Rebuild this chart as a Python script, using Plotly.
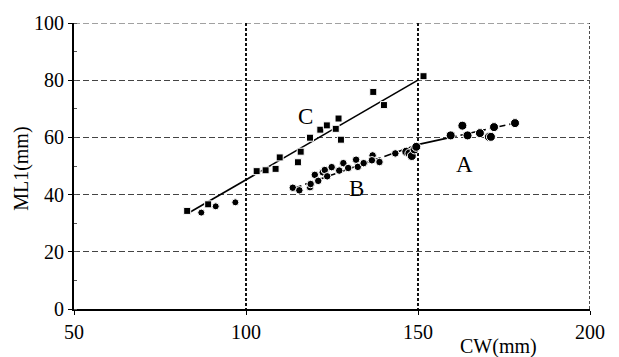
import plotly.graph_objects as go

# --- data ---
C_sq_cw = [82.9, 89.0, 103.1, 105.7, 108.6, 109.8, 115.1, 115.9, 118.6, 121.6,
           123.5, 126.1, 126.9, 127.6, 137.0, 140.1, 151.6]
C_sq_ml = [34.3, 36.6, 48.2, 48.5, 49.0, 53.0, 51.3, 55.0, 59.9, 62.7,
           64.2, 63.0, 66.6, 59.2, 75.9, 71.3, 81.4]

C_rd_cw = [87.0, 91.2, 96.9]
C_rd_ml = [33.7, 35.9, 37.3]

B_cw = [113.6, 115.5, 118.6, 118.8, 120.0, 121.0, 122.3, 122.9, 123.6, 124.9,
        127.1, 128.3, 129.7, 132.0, 132.5, 134.2, 136.8, 136.6, 138.8, 143.4]
B_ml = [42.4, 41.5, 42.6, 43.7, 46.9, 44.8, 47.8, 48.6, 46.4, 49.6,
        48.4, 51.0, 49.3, 52.2, 49.7, 51.0, 53.7, 52.0, 51.4, 54.4]

A_cw = [146.6, 147.5, 148.2, 149.0, 149.5, 159.5, 162.9, 164.4, 168.0, 170.6,
        171.2, 172.1, 178.2]
A_ml = [55.0, 54.4, 53.5, 55.8, 56.7, 60.7, 64.1, 60.7, 61.5, 60.2,
        60.2, 63.6, 65.0]

lineC_cw = [83.8, 150.1]
lineC_ml = [33.9, 80.1]
lineB_cw = [113.9, 149.5]
lineB_ml = [42.2, 57.3]
lineA_solid_cw = [149.2, 159.5]
lineA_solid_ml = [57.3, 60.0]
lineA_dash_cw = [159.5, 178.2]
lineA_dash_ml = [60.0, 65.0]

group_labels = ["C", "B", "A"]
label_cw = [117.4, 132.0, 163.6]
label_ml = [67.2, 42.1, 50.4]

x_ticks = [50, 100, 150, 200]
y_ticks = [0, 20, 40, 60, 80, 100]

FONT = "Liberation Serif, Times New Roman, serif"
XGRID = dict(color="#111", width=1.5, dash="3px,2px")
YGRID = dict(color="#444", width=1, dash="6px,3px")

fig = go.Figure()

# regression lines
fig.add_trace(go.Scatter(x=lineC_cw, y=lineC_ml, mode="lines",
                         line=dict(color="black", width=1.6), showlegend=False))
fig.add_trace(go.Scatter(x=lineB_cw, y=lineB_ml, mode="lines",
                         line=dict(color="black", width=1.6, dash="8px,4px"), showlegend=False))
fig.add_trace(go.Scatter(x=lineA_solid_cw, y=lineA_solid_ml, mode="lines",
                         line=dict(color="black", width=1.6), showlegend=False))
fig.add_trace(go.Scatter(x=lineA_dash_cw, y=lineA_dash_ml, mode="lines",
                         line=dict(color="black", width=1.6, dash="6px,4px"), showlegend=False))

# markers
fig.add_trace(go.Scatter(x=C_sq_cw, y=C_sq_ml, mode="markers",
                         marker=dict(symbol="square", size=7, color="black",
                                     line=dict(color="white", width=1)),
                         showlegend=False))
fig.add_trace(go.Scatter(x=C_rd_cw, y=C_rd_ml, mode="markers",
                         marker=dict(symbol="circle", size=7, color="black",
                                     line=dict(color="white", width=1)),
                         showlegend=False))
fig.add_trace(go.Scatter(x=B_cw, y=B_ml, mode="markers",
                         marker=dict(symbol="circle", size=7.5, color="black",
                                     line=dict(color="white", width=1)),
                         showlegend=False))
fig.add_trace(go.Scatter(x=A_cw, y=A_ml, mode="markers",
                         marker=dict(symbol="circle", size=9, color="black",
                                     line=dict(color="white", width=1)),
                         showlegend=False))

# grid lines at the far ends of the axes (plotly omits them at range edges)
fig.add_hline(y=y_ticks[-1], line=YGRID, layer="below")
fig.add_vline(x=x_ticks[-1], line=XGRID, layer="below")

# group labels
for t, xv, yv in zip(group_labels, label_cw, label_ml):
    fig.add_annotation(x=xv, y=yv, text=t, showarrow=False,
                       font=dict(family=FONT, size=23, color="black"))

# axis titles as annotations
fig.add_annotation(x=173.3, y=0, xref="x", yref="paper", text="CW(mm)",
                   showarrow=False, yanchor="middle", yshift=-37,
                   font=dict(family=FONT, size=20, color="black"))
fig.add_annotation(x=0, y=49, xref="paper", yref="y", text="ML1(mm)",
                   showarrow=False, textangle=-90, xanchor="center", xshift=-52,
                   font=dict(family=FONT, size=20, color="black"))

fig.update_xaxes(range=[50, 200], tickvals=x_ticks, ticktext=[str(v) for v in x_ticks],
                 showgrid=True, gridcolor=XGRID["color"], gridwidth=XGRID["width"],
                 griddash=XGRID["dash"],
                 showline=True, linecolor="black", linewidth=1.5,
                 ticks="outside", ticklen=4, tickcolor="black",
                 zeroline=False, tickfont=dict(family=FONT, size=20, color="black"))
fig.update_yaxes(range=[0, 100], tickvals=y_ticks, ticktext=[str(v) for v in y_ticks],
                 showgrid=True, gridcolor=YGRID["color"], gridwidth=YGRID["width"],
                 griddash=YGRID["dash"],
                 showline=True, linecolor="black", linewidth=2,
                 ticks="outside", ticklen=4, tickcolor="black",
                 minor=dict(dtick=10, ticks="inside", ticklen=3, tickcolor="#555", showgrid=False),
                 zeroline=False, tickfont=dict(family=FONT, size=20, color="black"))

fig.update_layout(width=619, height=357, margin=dict(l=74, r=29, t=17, b=48),
                  paper_bgcolor="white", plot_bgcolor="white",
                  font=dict(family=FONT, color="black"))

fig.write_html("out.html")
